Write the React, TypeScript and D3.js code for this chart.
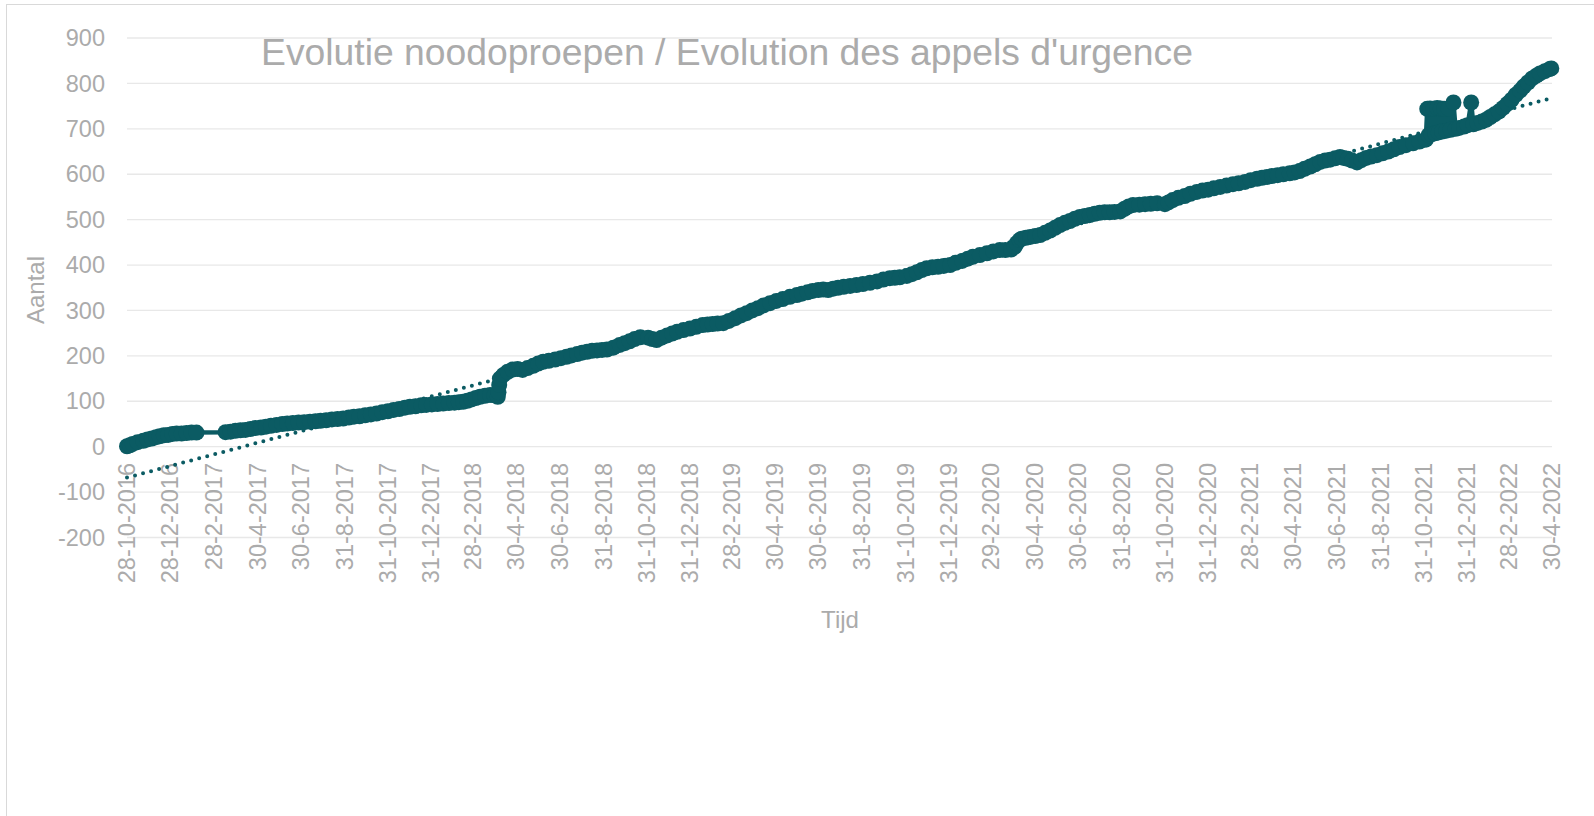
import React, { useEffect, useRef } from 'react';
import * as d3 from 'd3';

const W = 1594;
const H = 816;

const title = "Evolutie noodoproepen / Evolution des appels d'urgence";
const yTitle = 'Aantal';
const xTitle = 'Tijd';

const yTicks = [-200, -100, 0, 100, 200, 300, 400, 500, 600, 700, 800, 900];

const xTickLabels = [
  '28-10-2016', '28-12-2016', '28-2-2017', '30-4-2017', '30-6-2017', '31-8-2017',
  '31-10-2017', '31-12-2017', '28-2-2018', '30-4-2018', '30-6-2018', '31-8-2018',
  '31-10-2018', '31-12-2018', '28-2-2019', '30-4-2019', '30-6-2019', '31-8-2019',
  '31-10-2019', '31-12-2019', '29-2-2020', '30-4-2020', '30-6-2020', '31-8-2020',
  '31-10-2020', '31-12-2020', '28-2-2021', '30-4-2021', '30-6-2021', '31-8-2021',
  '31-10-2021', '31-12-2021', '28-2-2022', '30-4-2022',
];

// cumulative number of calls, [date, count]
const calls2016: [string, number][] = [
  ['2016-10-28', 1], ['2016-11-01', 3], ['2016-11-05', 6], ['2016-11-12', 10], ['2016-11-20', 13],
  ['2016-11-26', 16], ['2016-12-02', 18], ['2016-12-08', 21], ['2016-12-13', 23], ['2016-12-19', 25],
  ['2016-12-25', 26], ['2016-12-31', 28],
];

const calls2017: [string, number][] = [
  ['2017-01-06', 29], ['2017-01-13', 29], ['2017-01-20', 30], ['2017-01-27', 31], ['2017-02-03', 31],
  ['2017-03-16', 32], ['2017-03-23', 33], ['2017-03-30', 35], ['2017-04-06', 36], ['2017-04-13', 37],
  ['2017-04-20', 39], ['2017-04-27', 41], ['2017-05-05', 42], ['2017-05-12', 44], ['2017-05-19', 46],
  ['2017-05-27', 48], ['2017-06-04', 50], ['2017-06-11', 51], ['2017-06-19', 52], ['2017-06-27', 53],
  ['2017-07-05', 54], ['2017-07-13', 55], ['2017-07-21', 56], ['2017-07-28', 57], ['2017-08-05', 58],
  ['2017-08-13', 60], ['2017-08-21', 61], ['2017-08-29', 62], ['2017-09-06', 64], ['2017-09-13', 66],
  ['2017-09-21', 67], ['2017-09-29', 69], ['2017-10-07', 71], ['2017-10-15', 73], ['2017-10-23', 76],
  ['2017-10-31', 78], ['2017-11-08', 81], ['2017-11-16', 83], ['2017-11-24', 86], ['2017-12-01', 88],
  ['2017-12-09', 89], ['2017-12-17', 91], ['2017-12-24', 92],
];

const calls2018: [string, number][] = [
  ['2018-01-01', 93], ['2018-01-09', 94], ['2018-01-17', 95], ['2018-01-25', 96], ['2018-02-02', 97],
  ['2018-02-08', 98], ['2018-02-14', 99], ['2018-02-20', 101], ['2018-02-26', 104], ['2018-03-04', 107],
  ['2018-03-10', 110], ['2018-03-17', 112], ['2018-03-24', 114], ['2018-03-30', 113], ['2018-04-04', 110],
  ['2018-04-05', 120], ['2018-04-06', 136], ['2018-04-07', 150], ['2018-04-12', 158], ['2018-04-18', 165],
  ['2018-04-25', 170], ['2018-05-02', 171], ['2018-05-09', 169], ['2018-05-16', 173], ['2018-05-24', 178],
  ['2018-05-31', 183], ['2018-06-07', 187], ['2018-06-15', 189], ['2018-06-24', 192], ['2018-07-02', 195],
  ['2018-07-10', 198], ['2018-07-17', 201], ['2018-07-25', 204], ['2018-08-01', 207], ['2018-08-08', 209],
  ['2018-08-15', 211], ['2018-08-22', 212], ['2018-08-29', 213], ['2018-09-05', 214], ['2018-09-14', 218],
  ['2018-09-23', 224], ['2018-09-30', 228], ['2018-10-07', 232], ['2018-10-14', 237], ['2018-10-22', 241],
  ['2018-11-02', 240], ['2018-11-08', 237], ['2018-11-14', 235], ['2018-11-21', 240], ['2018-11-29', 245],
  ['2018-12-06', 249], ['2018-12-13', 253], ['2018-12-22', 257], ['2018-12-31', 260],
];

const calls2019: [string, number][] = [
  ['2019-01-09', 264], ['2019-01-18', 268], ['2019-01-25', 269], ['2019-02-01', 270], ['2019-02-08', 271],
  ['2019-02-16', 272], ['2019-02-24', 277], ['2019-03-05', 283], ['2019-03-13', 289], ['2019-03-21', 294],
  ['2019-03-29', 300], ['2019-04-06', 305], ['2019-04-14', 311], ['2019-04-23', 316], ['2019-05-02', 321],
  ['2019-05-11', 325], ['2019-05-21', 330], ['2019-05-31', 334], ['2019-06-07', 337], ['2019-06-15', 340],
  ['2019-06-22', 343], ['2019-06-30', 345], ['2019-07-07', 346], ['2019-07-14', 345], ['2019-07-21', 348],
  ['2019-07-28', 350], ['2019-08-05', 352], ['2019-08-14', 354], ['2019-08-23', 356], ['2019-09-01', 358],
  ['2019-09-11', 361], ['2019-09-21', 364], ['2019-09-30', 368], ['2019-10-09', 371], ['2019-10-16', 372],
  ['2019-10-23', 373], ['2019-11-02', 376], ['2019-11-09', 380], ['2019-11-16', 384], ['2019-11-23', 389],
  ['2019-11-30', 393], ['2019-12-08', 395], ['2019-12-16', 396], ['2019-12-24', 398],
];

const calls2020: [string, number][] = [
  ['2020-01-02', 400], ['2020-01-10', 405], ['2020-01-19', 409], ['2020-01-27', 414], ['2020-02-03', 418],
  ['2020-02-13', 422], ['2020-02-23', 426], ['2020-03-03', 430], ['2020-03-12', 433], ['2020-03-20', 433],
  ['2020-03-28', 434], ['2020-04-02', 440], ['2020-04-05', 448], ['2020-04-09', 455], ['2020-04-12', 458],
  ['2020-04-18', 460], ['2020-04-24', 462], ['2020-05-01', 464], ['2020-05-08', 466], ['2020-05-15', 471],
  ['2020-05-22', 476], ['2020-05-29', 482], ['2020-06-05', 488], ['2020-06-12', 493], ['2020-06-19', 497],
  ['2020-06-26', 502], ['2020-07-03', 506], ['2020-07-10', 508], ['2020-07-17', 510], ['2020-07-24', 513],
  ['2020-07-31', 515], ['2020-08-07', 516], ['2020-08-14', 516], ['2020-08-21', 517], ['2020-08-29', 518],
  ['2020-09-04', 524], ['2020-09-10', 529], ['2020-09-16', 532], ['2020-09-25', 533], ['2020-10-03', 534],
  ['2020-10-11', 535], ['2020-10-20', 536], ['2020-10-31', 534], ['2020-11-05', 538], ['2020-11-11', 543],
  ['2020-11-19', 548], ['2020-11-28', 552], ['2020-12-06', 557], ['2020-12-15', 561], ['2020-12-23', 564],
  ['2020-12-31', 566],
];

const calls2021: [string, number][] = [
  ['2021-01-08', 569], ['2021-01-17', 572], ['2021-01-26', 575], ['2021-02-04', 578], ['2021-02-12', 580],
  ['2021-02-21', 583], ['2021-03-01', 587], ['2021-03-10', 590], ['2021-03-17', 592], ['2021-03-24', 594],
  ['2021-03-31', 596], ['2021-04-08', 598], ['2021-04-16', 600], ['2021-04-25', 602], ['2021-05-02', 604],
  ['2021-05-09', 607], ['2021-05-16', 612], ['2021-05-24', 617], ['2021-05-31', 622], ['2021-06-07', 627],
  ['2021-06-14', 630], ['2021-06-21', 632], ['2021-06-28', 635], ['2021-07-05', 638], ['2021-07-10', 636],
  ['2021-07-16', 634], ['2021-07-22', 630], ['2021-07-29', 626], ['2021-08-04', 631], ['2021-08-11', 636],
  ['2021-08-18', 639], ['2021-08-26', 642], ['2021-09-03', 646], ['2021-09-11', 650], ['2021-09-19', 655],
  ['2021-09-27', 660], ['2021-10-06', 664], ['2021-10-16', 668], ['2021-10-25', 672], ['2021-11-03', 676],
  ['2021-11-05', 744], ['2021-11-07', 686], ['2021-11-09', 745], ['2021-11-11', 688], ['2021-11-14', 744],
  ['2021-11-16', 690], ['2021-11-19', 746], ['2021-11-21', 692], ['2021-11-24', 745], ['2021-11-26', 694],
  ['2021-11-29', 744], ['2021-12-02', 696], ['2021-12-05', 745], ['2021-12-08', 698], ['2021-12-12', 758],
  ['2021-12-15', 700], ['2021-12-20', 702], ['2021-12-27', 705],
];

const calls2022: [string, number][] = [
  ['2022-01-01', 708], ['2022-01-06', 758], ['2022-01-09', 710], ['2022-01-15', 713], ['2022-01-21', 716],
  ['2022-01-27', 720], ['2022-02-02', 726], ['2022-02-08', 732], ['2022-02-14', 738], ['2022-02-20', 746],
  ['2022-02-26', 755], ['2022-03-04', 764], ['2022-03-10', 775], ['2022-03-16', 784], ['2022-03-21', 793],
  ['2022-03-27', 802], ['2022-04-02', 811], ['2022-04-08', 817], ['2022-04-13', 822], ['2022-04-20', 827],
  ['2022-04-27', 832], ['2022-04-29', 833],
];

// linear trendline values at the start and end of the axis
const trendDates = ['2016-10-28', '2022-04-30'];
const trendValues = [-68, 768];

const TEAL = '#0b5b63';
const GREY = '#ababab';
const FONT = '"Liberation Sans", Arial, sans-serif';

const parseIso = (s: string) => {
  const [y, m, d] = s.split('-').map(Number);
  return new Date(Date.UTC(y, m - 1, d));
};
const parseLabel = (s: string) => {
  const [d, m, y] = s.split('-').map(Number);
  return new Date(Date.UTC(y, m - 1, d));
};

const App = () => {
  const ref = useRef<SVGSVGElement>(null);

  useEffect(() => {
    const svg = d3.select(ref.current);
    svg.selectAll('*').remove();

    const data = [...calls2016, ...calls2017, ...calls2018, ...calls2019, ...calls2020, ...calls2021, ...calls2022]
      .map(([d, v]) => ({ date: parseIso(d), value: v }));

    const x = d3.scaleUtc()
      .domain([parseLabel(xTickLabels[0]), parseLabel(xTickLabels[xTickLabels.length - 1])])
      .range([127, 1552]);

    const y = d3.scaleLinear()
      .domain([-200, 900])
      .range([537.5, 38]);

    // chart border
    svg.append('rect')
      .attr('x', 6.5).attr('y', 4.5)
      .attr('width', 1700).attr('height', 1000)
      .attr('fill', 'none').attr('stroke', '#d9d9d9');

    // gridlines
    svg.append('g')
      .selectAll('line')
      .data(yTicks)
      .enter()
      .append('line')
      .attr('x1', x.range()[0]).attr('x2', x.range()[1])
      .attr('y1', d => y(d)).attr('y2', d => y(d))
      .attr('stroke', '#e8e8e8').attr('stroke-width', 1.3);

    // y tick labels
    svg.append('g')
      .selectAll('text')
      .data(yTicks)
      .enter()
      .append('text')
      .attr('x', 105).attr('y', d => y(d))
      .attr('dy', '0.35em')
      .attr('text-anchor', 'end')
      .attr('font-family', FONT).attr('font-size', 23.5)
      .attr('fill', GREY)
      .text(d => d);

    // x tick labels, rotated
    svg.append('g')
      .selectAll('text')
      .data(xTickLabels)
      .enter()
      .append('text')
      .attr('transform', d => `translate(${x(parseLabel(d))},463) rotate(-90)`)
      .attr('dy', '0.35em')
      .attr('text-anchor', 'end')
      .attr('font-family', FONT).attr('font-size', 23.5)
      .attr('fill', GREY)
      .text(d => d);

    // trendline (dotted)
    const trend = trendDates.map((d, i) => ({ date: parseIso(d), value: trendValues[i] }));
    svg.append('path')
      .datum(trend)
      .attr('d', d3.line<any>().x(d => x(d.date)).y(d => y(d.value)))
      .attr('fill', 'none')
      .attr('stroke', TEAL).attr('stroke-width', 4)
      .attr('stroke-linecap', 'round')
      .attr('stroke-dasharray', '0 8.3');

    // series line + markers
    svg.append('path')
      .datum(data)
      .attr('d', d3.line<any>().x(d => x(d.date)).y(d => y(d.value)))
      .attr('fill', 'none')
      .attr('stroke', TEAL).attr('stroke-width', 4.5)
      .attr('stroke-linejoin', 'round');

    svg.append('g')
      .selectAll('circle')
      .data(data)
      .enter()
      .append('circle')
      .attr('cx', d => x(d.date)).attr('cy', d => y(d.value))
      .attr('r', 8)
      .attr('fill', TEAL);

    // titles
    svg.append('text')
      .attr('x', 727).attr('y', 65)
      .attr('text-anchor', 'middle')
      .attr('font-family', FONT).attr('font-size', 37.3)
      .attr('fill', GREY)
      .text(title);

    svg.append('text')
      .attr('transform', 'translate(36,290) rotate(-90)')
      .attr('dy', '0.35em')
      .attr('text-anchor', 'middle')
      .attr('font-family', FONT).attr('font-size', 24)
      .attr('fill', GREY)
      .text(yTitle);

    svg.append('text')
      .attr('x', 840).attr('y', 620)
      .attr('dy', '0.35em')
      .attr('text-anchor', 'middle')
      .attr('font-family', FONT).attr('font-size', 24)
      .attr('fill', GREY)
      .text(xTitle);
  }, []);

  return (
    <svg
      ref={ref}
      width={W}
      height={H}
      style={{ position: 'absolute', left: 0, top: 0, background: '#fff' }}
    />
  );
};

export default App;
